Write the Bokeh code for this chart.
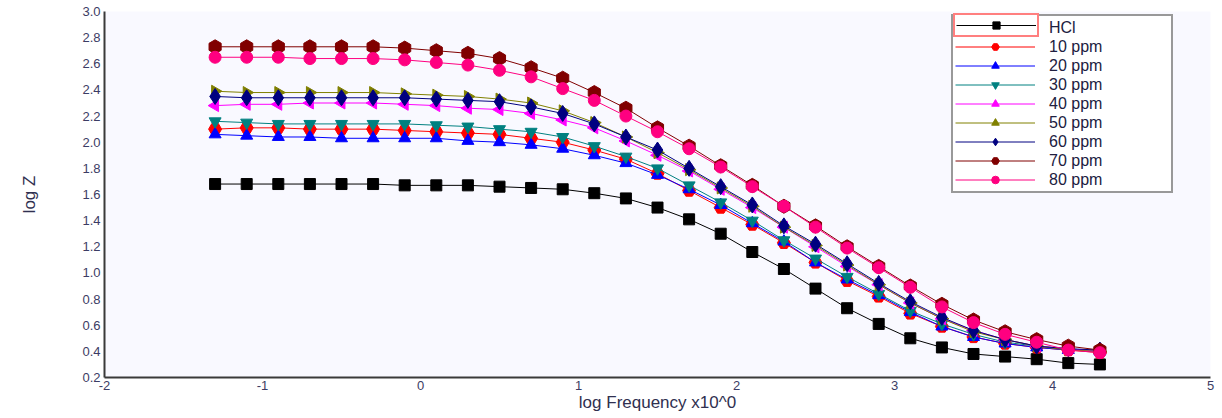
import math

from bokeh.plotting import figure
from bokeh.models import (Legend, LegendItem, FixedTicker, PrintfTickFormatter,
                          Range1d)
from bokeh.embed import file_html
from bokeh.resources import INLINE

# Bode impedance magnitude: log Z against log frequency for the blank acid
# and for each inhibitor concentration.
log_freq = [-1.3, -1.1, -0.9, -0.7, -0.5, -0.3, -0.1, 0.1, 0.3, 0.5,
            0.7, 0.9, 1.1, 1.3, 1.5, 1.7, 1.9, 2.1, 2.3, 2.5,
            2.7, 2.9, 3.1, 3.3, 3.5, 3.7, 3.9, 4.1, 4.3]

logz_hcl = [1.68, 1.68, 1.68, 1.68, 1.68, 1.68, 1.67, 1.67, 1.67, 1.66,
            1.65, 1.64, 1.61, 1.57, 1.50, 1.41, 1.30, 1.16, 1.03, 0.88,
            0.73, 0.61, 0.50, 0.43, 0.38, 0.36, 0.34, 0.31, 0.30]
logz_10 = [2.10, 2.11, 2.11, 2.10, 2.10, 2.10, 2.09, 2.08, 2.07, 2.06,
           2.03, 2.00, 1.94, 1.87, 1.76, 1.63, 1.50, 1.37, 1.23, 1.08,
           0.94, 0.82, 0.69, 0.59, 0.51, 0.46, 0.43, 0.41, 0.39]
logz_20 = [2.06, 2.05, 2.04, 2.04, 2.03, 2.03, 2.03, 2.03, 2.01, 2.00,
           1.98, 1.95, 1.90, 1.84, 1.75, 1.64, 1.52, 1.38, 1.24, 1.08,
           0.95, 0.83, 0.70, 0.59, 0.51, 0.46, 0.43, 0.41, 0.40]
logz_30 = [2.16, 2.15, 2.14, 2.14, 2.14, 2.14, 2.14, 2.13, 2.12, 2.10,
           2.08, 2.04, 1.97, 1.89, 1.80, 1.67, 1.54, 1.40, 1.25, 1.11,
           0.97, 0.84, 0.71, 0.61, 0.53, 0.47, 0.44, 0.42, 0.40]
logz_40 = [2.28, 2.29, 2.29, 2.30, 2.30, 2.30, 2.29, 2.28, 2.26, 2.25,
           2.22, 2.17, 2.11, 2.01, 1.90, 1.78, 1.64, 1.50, 1.35, 1.20,
           1.05, 0.91, 0.77, 0.65, 0.56, 0.49, 0.44, 0.42, 0.40]
logz_50 = [2.39, 2.38, 2.38, 2.38, 2.38, 2.38, 2.37, 2.36, 2.35, 2.33,
           2.30, 2.24, 2.15, 2.04, 1.92, 1.79, 1.65, 1.51, 1.35, 1.21,
           1.06, 0.91, 0.77, 0.65, 0.55, 0.49, 0.44, 0.41, 0.40]
logz_60 = [2.35, 2.34, 2.34, 2.34, 2.34, 2.34, 2.34, 2.33, 2.32, 2.31,
           2.27, 2.22, 2.14, 2.04, 1.94, 1.80, 1.66, 1.52, 1.36, 1.22,
           1.07, 0.92, 0.78, 0.66, 0.56, 0.49, 0.44, 0.42, 0.41]
logz_70 = [2.73, 2.73, 2.73, 2.73, 2.73, 2.73, 2.72, 2.70, 2.68, 2.64,
           2.57, 2.49, 2.38, 2.26, 2.11, 1.97, 1.82, 1.67, 1.51, 1.36,
           1.20, 1.05, 0.90, 0.76, 0.64, 0.55, 0.49, 0.44, 0.41]
logz_80 = [2.65, 2.65, 2.65, 2.64, 2.64, 2.64, 2.63, 2.61, 2.59, 2.55,
           2.50, 2.41, 2.32, 2.20, 2.08, 1.95, 1.81, 1.66, 1.51, 1.35,
           1.19, 1.04, 0.89, 0.74, 0.62, 0.53, 0.47, 0.41, 0.39]

series_labels = ["HCl", "10 ppm", "20 ppm", "30 ppm", "40 ppm",
                 "50 ppm", "60 ppm", "70 ppm", "80 ppm"]
series_values = [logz_hcl, logz_10, logz_20, logz_30, logz_40,
                 logz_50, logz_60, logz_70, logz_80]

x_ticks = [-2, -1, 0, 1, 2, 3, 4, 5]
y_ticks = [0.2, 0.4, 0.6, 0.8, 1.0, 1.2, 1.4, 1.6, 1.8, 2.0,
           2.2, 2.4, 2.6, 2.8, 3.0]

# marker style per series: colour, marker, size, rotation
styles = [
    ("#000000", "square", 11, 0.0),
    ("#FF0000", "hex", 13, 0.0),
    ("#0000FF", "triangle", 12, 0.0),
    ("#008080", "inverted_triangle", 12, 0.0),
    ("#FF00FF", "triangle", 12, math.pi / 2),
    ("#808000", "triangle", 12, -math.pi / 2),
    ("#000080", "diamond", 16, 0.0),
    ("#800000", "hex", 14, math.pi / 2),
    ("#FF0080", "circle", 12, 0.0),
]

FONT = "Liberation Sans"
W, H = 1222, 418
LEFT, RIGHT, TOP, BOTTOM = 104, 12, 11, 41
X0, X1, Y0, Y1 = -2, 5, 0.2, 3.0

p = figure(width=W, height=H, x_range=Range1d(X0, X1), y_range=Range1d(Y0, Y1),
           output_backend="svg", toolbar_location=None,
           min_border_left=LEFT, min_border_right=RIGHT,
           min_border_top=TOP, min_border_bottom=BOTTOM,
           background_fill_color="#F9F9FF", border_fill_color="white",
           outline_line_color=None)
p.grid.visible = False

p.xaxis.ticker = FixedTicker(ticks=x_ticks)
p.xaxis.formatter = PrintfTickFormatter(format="%d")
p.yaxis.ticker = FixedTicker(ticks=y_ticks)
p.yaxis.formatter = PrintfTickFormatter(format="%.1f")
p.xaxis.axis_label = "log Frequency x10^0"
p.yaxis.axis_label = "log Z"

for ax in (p.xaxis[0], p.yaxis[0]):
    ax.axis_line_color = "#3a3a3a"
    ax.axis_line_width = 2
    ax.major_tick_line_color = None
    ax.minor_tick_line_color = None
    ax.major_tick_out = 0
    ax.major_tick_in = 0
    ax.minor_tick_out = 0
    ax.minor_tick_in = 0
    ax.major_label_text_font = FONT
    ax.major_label_text_font_size = "13px"
    ax.major_label_text_color = "#3c3c64"
    ax.axis_label_text_font = FONT
    ax.axis_label_text_font_size = "17px"
    ax.axis_label_text_font_style = "normal"
    ax.axis_label_text_color = "#303050"

p.xaxis.major_label_standoff = 3
p.xaxis.axis_label_standoff = 0
p.yaxis.major_label_standoff = 4
p.yaxis.axis_label_standoff = 40

items = []
for label, values, (color, marker, size, angle) in zip(series_labels, series_values, styles):
    ln = p.line(log_freq, values, line_color=color, line_width=1)
    sc = p.scatter(log_freq, values, marker=marker, size=size, angle=angle,
                   fill_color=color, line_color=color)
    items.append(LegendItem(label=label, renderers=[ln, sc]))

legend = Legend(items=items, location=(847, 184), margin=0, padding=2, spacing=0,
                glyph_width=80, glyph_height=19, label_height=19, label_width=120,
                label_standoff=14, label_text_font=FONT, label_text_font_size="16px",
                label_text_color="#202040", border_line_color="#333333",
                border_line_width=2, background_fill_color="white",
                background_fill_alpha=1.0)
p.add_layout(legend)

# red selection frame round the glyph of the first legend entry
selected = Legend(items=[LegendItem(label=" ", renderers=items[0].renderers)],
                  location=(849, 340), margin=0, padding=1, spacing=0,
                  glyph_width=80, glyph_height=18, label_height=18, label_width=0,
                  label_standoff=0, label_text_font=FONT, label_text_font_size="10px",
                  border_line_color="#FF0000", border_line_width=2,
                  background_fill_color="white", background_fill_alpha=1.0)
p.add_layout(selected)

open("out.html", "w").write(file_html(p, INLINE))
